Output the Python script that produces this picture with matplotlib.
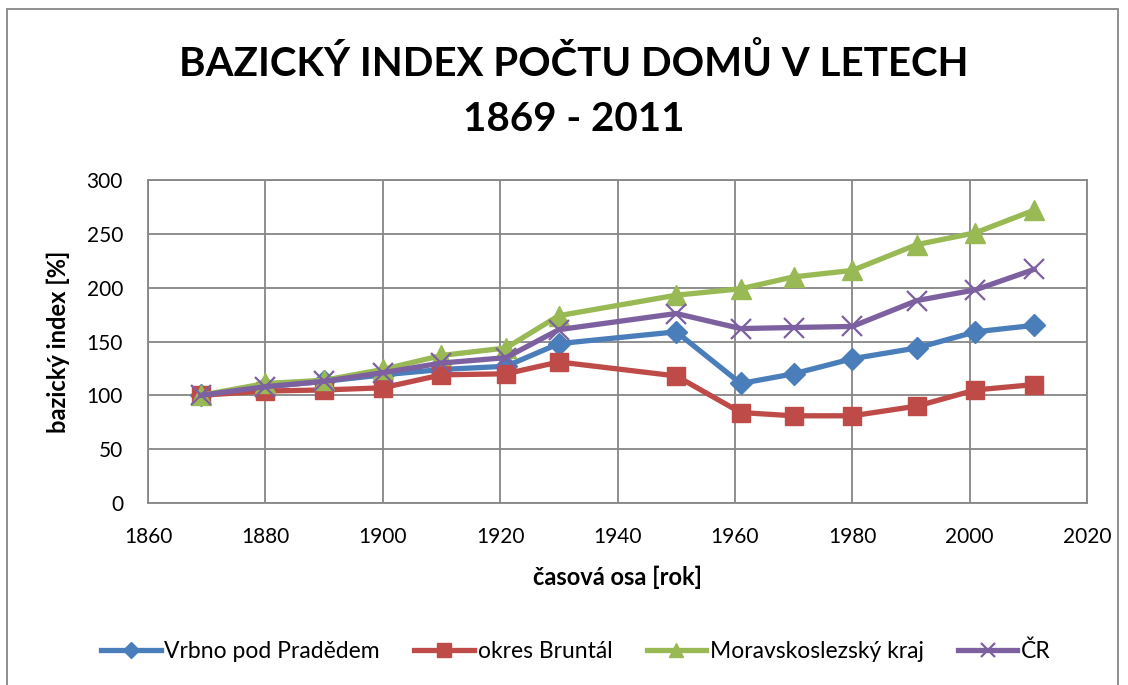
import matplotlib.pyplot as plt
from matplotlib.patches import Rectangle

# -------------------------------
# DATA
# -------------------------------

years = [1869, 1880, 1890, 1900, 1910, 1921, 1930, 1950, 1961, 1970, 1980, 1991, 2001, 2011]

vrbno = [100, 108, 113, 119, 124, 127, 148, 159, 111, 120, 134, 144, 159, 165]
bruntal = [100, 104, 105, 107, 119, 120, 131, 118, 84, 81, 81, 90, 105, 110]
msk = [100, 111, 114, 124, 137, 144, 174, 193, 199, 210, 216, 240, 251, 272]
cr = [100, 108, 113, 121, 130, 135, 161, 176, 162, 163, 164, 188, 198, 217]

series_names = ['Vrbno pod Pradědem', 'okres Bruntál', 'Moravskoslezský kraj', 'ČR']

title = 'BAZICKÝ INDEX POČTU DOMŮ V LETECH\n1869 - 2011'
x_label = 'časová osa [rok]'
y_label = 'bazický index [%]'

# -------------------------------
# STYL
# -------------------------------

plt.rcParams['font.family'] = ['Lato', 'DejaVu Sans']

W, H = 1128, 685
fig = plt.figure(figsize=(W / 100, H / 100), dpi=100)

# okvir grafa
fig.patches.append(Rectangle((7 / W, -0.05), 1111 / W, 1.05 - 9.5 / H,
                             transform=fig.transFigure, fill=False,
                             edgecolor='#868686', linewidth=1.3))

ax = fig.add_axes([148 / W, 1 - 503 / H, (1087 - 148) / W, (503 - 180) / H])

ax.plot(years, vrbno, color='#4A7EBB', lw=3.8, marker='D', ms=11,
        label=series_names[0])
ax.plot(years, bruntal, color='#BE4B48', lw=3.8, marker='s', ms=13,
        label=series_names[1])
ax.plot(years, msk, color='#98B954', lw=3.8, marker='^', ms=14,
        label=series_names[2])
ax.plot(years, cr, color='#7D60A0', lw=3.8, marker='x', ms=14, mew=1.6,
        label=series_names[3])

ax.set_xlim(1860, 2020)
ax.set_ylim(0, 300)
ax.set_xticks(range(1860, 2021, 20))
ax.set_yticks(range(0, 301, 50))
ax.grid(True, color='#868686', linewidth=1.3)
ax.set_axisbelow(True)
for s in ax.spines.values():
    s.set_color('#868686')
    s.set_linewidth(1.3)
ax.tick_params(length=0, labelsize=15)
ax.tick_params(axis='x', pad=17)
ax.tick_params(axis='y', pad=18)

ax.set_xlabel(x_label, fontsize=17, fontweight='bold', labelpad=14)
ax.set_ylabel(y_label, fontsize=17, fontweight='bold', labelpad=12)

fig.text(574 / W, 1 - 91 / H, title, ha='center', va='center',
         fontsize=29, fontweight='bold', linespacing=1.6)

fig.legend(loc='center', bbox_to_anchor=(576 / W, 1 - 651 / H), ncol=4,
           frameon=False, fontsize=16.5, handlelength=2.6, columnspacing=1.5,
           handletextpad=0.15, markerscale=0.75)

plt.savefig('out.png', dpi=100)
